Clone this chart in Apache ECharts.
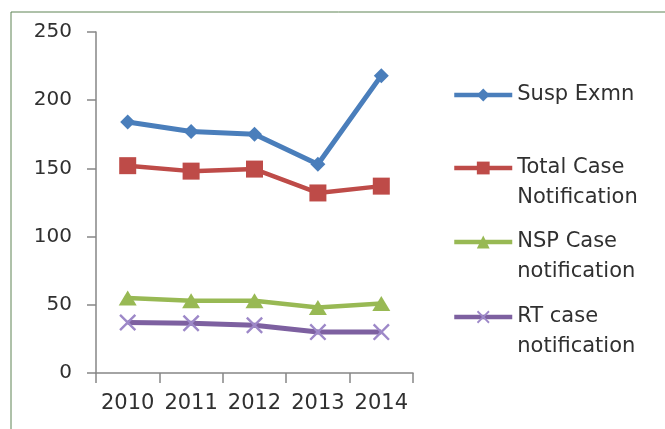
<!DOCTYPE html>
<html>
<head>
<meta charset="utf-8">
<script src="https://cdn.jsdelivr.net/npm/echarts@6/dist/echarts.min.js"></script>
<style>
  html, body { margin: 0; padding: 0; background: #fff; }
  #chart { width: 665px; height: 429px; }
</style>
</head>
<body>
<div id="chart"></div>
<script>
const years = ['2010', '2011', '2012', '2013', '2014'];
const seriesNames = ['Susp Exmn', 'Total Case Notification', 'NSP Case notification', 'RT case notification'];
const legendLabels = ['Susp Exmn', 'Total Case\nNotification', 'NSP Case\nnotification', 'RT case\nnotification'];
const suspExmn = [184, 177, 175, 153, 218];
const totalCase = [152, 148, 149.5, 132, 137];
const nspCase = [55, 53, 53, 48, 51];
const rtCase = [37, 36.5, 35, 30, 30];
const yTicks = [0, 50, 100, 150, 200, 250];

const font = 'DejaVu Sans';
const textColor = '#303030';
const crossPath = 'path://M0,1L1,0L5,4L9,0L10,1L6,5L10,9L9,10L5,6L1,10L0,9L4,5Z';

const chart = echarts.init(document.getElementById('chart'));

// one legend per entry so each sits where the reference has it;
// two-line labels get a blank line on top so the icon lines up with the first line
const legendTops = [80, 123, 197, 272];
const legends = seriesNames.map((name, i) => {
  const label = legendLabels[i].indexOf('\n') >= 0 ? ' \n' + legendLabels[i] : legendLabels[i];
  return {
    data: [name],
    orient: 'vertical',
    left: 452,
    top: legendTops[i],
    padding: 0,
    itemWidth: 58,
    itemHeight: 16,
    lineStyle: { width: 4.5 },
    formatter: () => label,
    textStyle: { fontFamily: font, fontSize: 21, lineHeight: 30, color: textColor }
  };
});

const option = {
  animation: false,
  legend: legends,
  grid: { left: 96, right: 252, top: 32, bottom: 56 },
  graphic: [{
    type: 'rect',
    shape: { x: 11, y: 12, width: 700, height: 500 },
    style: { fill: 'none', stroke: '#5f8455', lineWidth: 1 },
    silent: true
  }],
  xAxis: {
    type: 'category',
    data: years,
    boundaryGap: true,
    axisLine: { lineStyle: { color: '#868686', width: 1.5 } },
    axisTick: { show: true, interval: 0, length: 10, lineStyle: { color: '#868686', width: 1.5 } },
    axisLabel: { interval: 0, fontFamily: font, fontSize: 21, color: textColor, margin: 20 }
  },
  yAxis: {
    type: 'value',
    min: yTicks[0],
    max: yTicks[yTicks.length - 1],
    interval: yTicks[1] - yTicks[0],
    splitLine: { show: false },
    axisLine: { show: true, lineStyle: { color: '#868686', width: 1.5 } },
    axisTick: { show: true, length: 9, lineStyle: { color: '#868686', width: 1.5 } },
    axisLabel: { fontFamily: font, fontSize: 20, color: textColor, margin: 24 }
  },
  series: [
    {
      name: seriesNames[0], type: 'line', data: suspExmn,
      symbol: 'diamond', symbolSize: [15, 15],
      lineStyle: { color: '#4a7ebb', width: 5 },
      itemStyle: { color: '#4a7ebb' }
    },
    {
      name: seriesNames[1], type: 'line', data: totalCase,
      symbol: 'rect', symbolSize: 17,
      lineStyle: { color: '#be4b48', width: 4.5 },
      itemStyle: { color: '#be4b48' }
    },
    {
      name: seriesNames[2], type: 'line', data: nspCase,
      symbol: 'triangle', symbolSize: [18, 15],
      lineStyle: { color: '#98b954', width: 4.5 },
      itemStyle: { color: '#98b954' }
    },
    {
      name: seriesNames[3], type: 'line', data: rtCase,
      symbol: crossPath, symbolSize: 17,
      lineStyle: { color: '#7d60a0', width: 5 },
      itemStyle: { color: '#9d88c8' }
    }
  ]
};

chart.setOption(option);
</script>
</body>
</html>
